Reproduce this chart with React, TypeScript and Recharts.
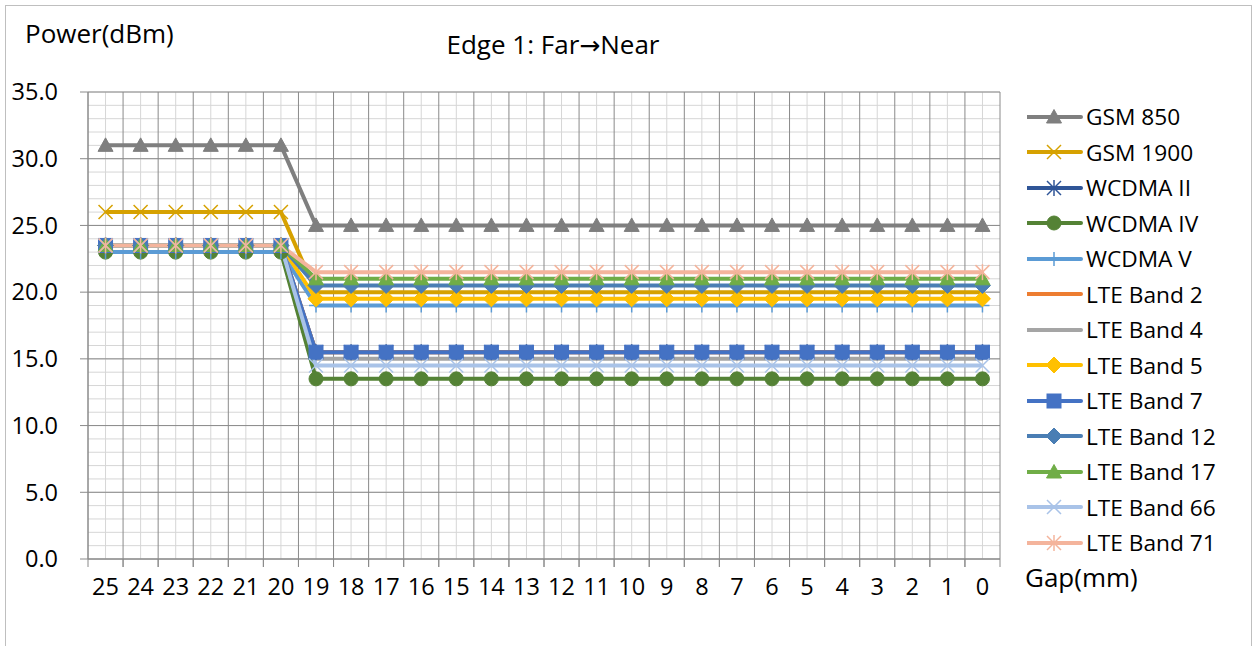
import React from "react";
import { LineChart, Line, XAxis, YAxis, CartesianGrid, Legend } from "recharts";

// ---------- data ----------
const categories = ["25", "24", "23", "22", "21", "20", "19", "18", "17", "16", "15", "14", "13", "12", "11", "10", "9", "8", "7", "6", "5", "4", "3", "2", "1", "0"];

const gsm850 = [31, 31, 31, 31, 31, 31, 25, 25, 25, 25, 25, 25, 25, 25, 25, 25, 25, 25, 25, 25, 25, 25, 25, 25, 25, 25];
const gsm1900 = [26, 26, 26, 26, 26, 26, 20, 20, 20, 20, 20, 20, 20, 20, 20, 20, 20, 20, 20, 20, 20, 20, 20, 20, 20, 20];
const wcdmaII = [23.5, 23.5, 23.5, 23.5, 23.5, 23.5, 15.5, 15.5, 15.5, 15.5, 15.5, 15.5, 15.5, 15.5, 15.5, 15.5, 15.5, 15.5, 15.5, 15.5, 15.5, 15.5, 15.5, 15.5, 15.5, 15.5];
const wcdmaIV = [23, 23, 23, 23, 23, 23, 13.5, 13.5, 13.5, 13.5, 13.5, 13.5, 13.5, 13.5, 13.5, 13.5, 13.5, 13.5, 13.5, 13.5, 13.5, 13.5, 13.5, 13.5, 13.5, 13.5];
const wcdmaV = [23, 23, 23, 23, 23, 23, 19, 19, 19, 19, 19, 19, 19, 19, 19, 19, 19, 19, 19, 19, 19, 19, 19, 19, 19, 19];
const lteB2 = [23.5, 23.5, 23.5, 23.5, 23.5, 23.5, 15.5, 15.5, 15.5, 15.5, 15.5, 15.5, 15.5, 15.5, 15.5, 15.5, 15.5, 15.5, 15.5, 15.5, 15.5, 15.5, 15.5, 15.5, 15.5, 15.5];
const lteB4 = [23.5, 23.5, 23.5, 23.5, 23.5, 23.5, 15, 15, 15, 15, 15, 15, 15, 15, 15, 15, 15, 15, 15, 15, 15, 15, 15, 15, 15, 15];
const lteB5 = [23.5, 23.5, 23.5, 23.5, 23.5, 23.5, 19.5, 19.5, 19.5, 19.5, 19.5, 19.5, 19.5, 19.5, 19.5, 19.5, 19.5, 19.5, 19.5, 19.5, 19.5, 19.5, 19.5, 19.5, 19.5, 19.5];
const lteB7 = [23.5, 23.5, 23.5, 23.5, 23.5, 23.5, 15.5, 15.5, 15.5, 15.5, 15.5, 15.5, 15.5, 15.5, 15.5, 15.5, 15.5, 15.5, 15.5, 15.5, 15.5, 15.5, 15.5, 15.5, 15.5, 15.5];
const lteB12 = [23.5, 23.5, 23.5, 23.5, 23.5, 23.5, 20.5, 20.5, 20.5, 20.5, 20.5, 20.5, 20.5, 20.5, 20.5, 20.5, 20.5, 20.5, 20.5, 20.5, 20.5, 20.5, 20.5, 20.5, 20.5, 20.5];
const lteB17 = [23.5, 23.5, 23.5, 23.5, 23.5, 23.5, 21, 21, 21, 21, 21, 21, 21, 21, 21, 21, 21, 21, 21, 21, 21, 21, 21, 21, 21, 21];
const lteB66 = [23.5, 23.5, 23.5, 23.5, 23.5, 23.5, 14.5, 14.5, 14.5, 14.5, 14.5, 14.5, 14.5, 14.5, 14.5, 14.5, 14.5, 14.5, 14.5, 14.5, 14.5, 14.5, 14.5, 14.5, 14.5, 14.5];
const lteB71 = [23.5, 23.5, 23.5, 23.5, 23.5, 23.5, 21.5, 21.5, 21.5, 21.5, 21.5, 21.5, 21.5, 21.5, 21.5, 21.5, 21.5, 21.5, 21.5, 21.5, 21.5, 21.5, 21.5, 21.5, 21.5, 21.5];

const yTicks = [0, 5, 10, 15, 20, 25, 30, 35];
const yMinorValues = [0, 1, 2, 3, 4, 5, 6, 7, 8, 9, 10, 11, 12, 13, 14, 15, 16, 17, 18, 19, 20, 21, 22, 23, 24, 25, 26, 27, 28, 29, 30, 31, 32, 33, 34, 35];

type MarkerType = "triangle" | "x" | "star" | "circle" | "plus" | "none" | "diamond" | "square";

const SERIES: { key: string; name: string; values: number[]; color: string; marker: MarkerType }[] = [
  { key: "s0", name: "GSM 850", values: gsm850, color: "#7F7F7F", marker: "triangle" },
  { key: "s1", name: "GSM 1900", values: gsm1900, color: "#D6A100", marker: "x" },
  { key: "s2", name: "WCDMA II", values: wcdmaII, color: "#2F5597", marker: "star" },
  { key: "s3", name: "WCDMA IV", values: wcdmaIV, color: "#548235", marker: "circle" },
  { key: "s4", name: "WCDMA V", values: wcdmaV, color: "#5B9BD5", marker: "plus" },
  { key: "s5", name: "LTE Band 2", values: lteB2, color: "#ED7D31", marker: "none" },
  { key: "s6", name: "LTE Band 4", values: lteB4, color: "#A5A5A5", marker: "none" },
  { key: "s7", name: "LTE Band 5", values: lteB5, color: "#FFC000", marker: "diamond" },
  { key: "s8", name: "LTE Band 7", values: lteB7, color: "#4472C4", marker: "square" },
  { key: "s9", name: "LTE Band 12", values: lteB12, color: "#4A7EB4", marker: "diamond" },
  { key: "s10", name: "LTE Band 17", values: lteB17, color: "#70AD47", marker: "triangle" },
  { key: "s11", name: "LTE Band 66", values: lteB66, color: "#A9C3E8", marker: "x" },
  { key: "s12", name: "LTE Band 71", values: lteB71, color: "#F4B49C", marker: "star" },
];

const rows = categories.map((c, i) => {
  const r: Record<string, any> = { gap: c };
  SERIES.forEach((s) => {
    r[s.key] = s.values[i];
  });
  return r;
});

// ---------- layout ----------
const W = 1253;
const H = 646;
const PLOT_LEFT = 88;
const PLOT_RIGHT = 1000;
const PLOT_TOP = 92;
const PLOT_BOTTOM = 559;
const STEP = (PLOT_RIGHT - PLOT_LEFT) / categories.length;
const FONT = "'Open Sans', 'Noto Sans', sans-serif";
const MAJOR = "#8A8A8A";
const MINOR = "#D6D6D6";

function Marker({ type, cx, cy, color }: { type: MarkerType; cx: number; cy: number; color: string }) {
  const r = 7;
  switch (type) {
    case "triangle":
      return <polygon points={`${cx},${cy - 7.5} ${cx + 7.5},${cy + 6} ${cx - 7.5},${cy + 6}`} fill={color} stroke={color} strokeWidth={1} />;
    case "x":
      return (
        <g stroke={color} strokeWidth={1.5}>
          <line x1={cx - r} y1={cy - r} x2={cx + r} y2={cy + r} />
          <line x1={cx - r} y1={cy + r} x2={cx + r} y2={cy - r} />
        </g>
      );
    case "star":
      return (
        <g stroke={color} strokeWidth={1.5}>
          <line x1={cx - r} y1={cy - r} x2={cx + r} y2={cy + r} />
          <line x1={cx - r} y1={cy + r} x2={cx + r} y2={cy - r} />
          <line x1={cx} y1={cy - r - 1} x2={cx} y2={cy + r + 1} />
        </g>
      );
    case "circle":
      return <circle cx={cx} cy={cy} r={7} fill={color} stroke={color} />;
    case "plus":
      return (
        <g stroke={color} strokeWidth={1.5}>
          <line x1={cx - r} y1={cy} x2={cx + r} y2={cy} />
          <line x1={cx} y1={cy - r} x2={cx} y2={cy + r} />
        </g>
      );
    case "diamond":
      return <polygon points={`${cx},${cy - 8} ${cx + 8},${cy} ${cx},${cy + 8} ${cx - 8},${cy}`} fill={color} stroke={color} />;
    case "square":
      return <rect x={cx - 7} y={cy - 7} width={14} height={14} fill={color} stroke={color} />;
    default:
      return null;
  }
}

const XTick = (props: any) => {
  const { x, y, payload } = props;
  return (
    <g>
      <line x1={x - STEP / 2} y1={y} x2={x - STEP / 2} y2={y + 8} stroke={MAJOR} strokeWidth={1} />
      <line x1={x + STEP / 2} y1={y} x2={x + STEP / 2} y2={y + 8} stroke={MAJOR} strokeWidth={1} />
      <text x={x} y={y + 36} textAnchor="middle" fontFamily={FONT} fontSize={23.5} fill="#000">
        {payload.value}
      </text>
    </g>
  );
};

const renderLegend = () => (
  <div style={{ fontFamily: FONT, fontSize: 22.7, color: "#000" }}>
    {SERIES.map((s) => (
      <div key={s.key} style={{ display: "flex", alignItems: "center", height: 35.5 }}>
        <svg width={59} height={20} style={{ display: "block" }}>
          <line x1={0} y1={10} x2={54} y2={10} stroke={s.color} strokeWidth={4} strokeLinecap="round" />
          <Marker type={s.marker} cx={27} cy={10} color={s.color} />
        </svg>
        <span style={{ whiteSpace: "nowrap", lineHeight: "35.5px" }}>{s.name}</span>
      </div>
    ))}
  </div>
);

function yScaleOf(axis: any) {
  if (axis && typeof axis.scale === "function") return axis.scale;
  return (v: number) => PLOT_BOTTOM - ((PLOT_BOTTOM - PLOT_TOP) * v) / 35;
}

function xScaleOf(axis: any) {
  if (axis && typeof axis.scale === "function") return axis.scale;
  return (c: string) => PLOT_LEFT + STEP / 2 + categories.indexOf(c) * STEP;
}

export default function App() {
  return (
    <div style={{ position: "absolute", left: 0, top: 0, width: W, height: H, background: "#fff", overflow: "hidden" }}>
      <div style={{ position: "absolute", left: 5, top: 5, width: 1245, height: 700, border: "1px solid #BFBFBF" }} />
      <div style={{ position: "absolute", left: 25, top: 20, fontFamily: FONT, fontSize: 26, lineHeight: "26px", whiteSpace: "nowrap" }}>
        Power(dBm)
      </div>
      <div style={{ position: "absolute", left: 553, top: 31, transform: "translateX(-50%)", fontFamily: FONT, fontSize: 26, lineHeight: "26px", whiteSpace: "nowrap" }}>
        Edge 1: Far<span style={{ fontFamily: "'DejaVu Sans', sans-serif", fontSize: 25 }}>→</span>Near
      </div>
      <div style={{ position: "absolute", left: 1025, top: 564, fontFamily: FONT, fontSize: 26, lineHeight: "26px", whiteSpace: "nowrap" }}>
        Gap(mm)
      </div>
      <div style={{ position: "absolute", left: 0, top: 0 }}>
        <LineChart width={W} height={H} data={rows} margin={{ top: PLOT_TOP, right: W - PLOT_RIGHT, bottom: H - PLOT_BOTTOM - 40, left: 0 }}>
          <CartesianGrid
            stroke={MINOR}
            strokeWidth={1}
            horizontalCoordinatesGenerator={(p: any) => {
              const sc = yScaleOf(p.yAxis);
              return yMinorValues.map((v) => sc(v));
            }}
            verticalCoordinatesGenerator={(p: any) => {
              const sc = xScaleOf(p.xAxis);
              return categories.map((c) => sc(c));
            }}
          />
          <CartesianGrid
            stroke={MAJOR}
            strokeWidth={1}
            horizontalCoordinatesGenerator={(p: any) => {
              const sc = yScaleOf(p.yAxis);
              return yTicks.map((v) => sc(v));
            }}
            verticalCoordinatesGenerator={(p: any) => {
              const sc = xScaleOf(p.xAxis);
              const xs = categories.map((c) => sc(c) - STEP / 2);
              xs.push(sc(categories[categories.length - 1]) + STEP / 2);
              return xs;
            }}
          />
          <XAxis
            dataKey="gap"
            type="category"
            height={40}
            padding={{ left: STEP / 2, right: STEP / 2 }}
            axisLine={{ stroke: MAJOR }}
            tickLine={false}
            tickSize={0}
            tickMargin={0}
            interval={0}
            tick={<XTick />}
          />
          <YAxis
            width={PLOT_LEFT}
            domain={[0, 35]}
            ticks={yTicks}
            interval={0}
            tickFormatter={(v: number) => v.toFixed(1)}
            tickSize={8}
            tickMargin={22}
            axisLine={{ stroke: MAJOR }}
            tickLine={{ stroke: MAJOR }}
            tick={{ fill: "#000", fontSize: 23.5, fontFamily: FONT }}
          />
          <Legend
            layout="vertical"
            align="center"
            verticalAlign="middle"
            content={renderLegend}
            wrapperStyle={{ left: 1027, top: 99, width: 224, height: 470 }}
          />
          {SERIES.map((s) => (
            <Line
              key={s.key}
              dataKey={s.key}
              name={s.name}
              stroke={s.color}
              strokeWidth={4}
              type="linear"
              isAnimationActive={false}
              activeDot={false}
              dot={(p: any) => (
                <Marker key={`${s.key}-${p.index}`} type={s.marker} cx={p.cx} cy={p.cy} color={s.color} />
              )}
            />
          ))}
        </LineChart>
      </div>
    </div>
  );
}
